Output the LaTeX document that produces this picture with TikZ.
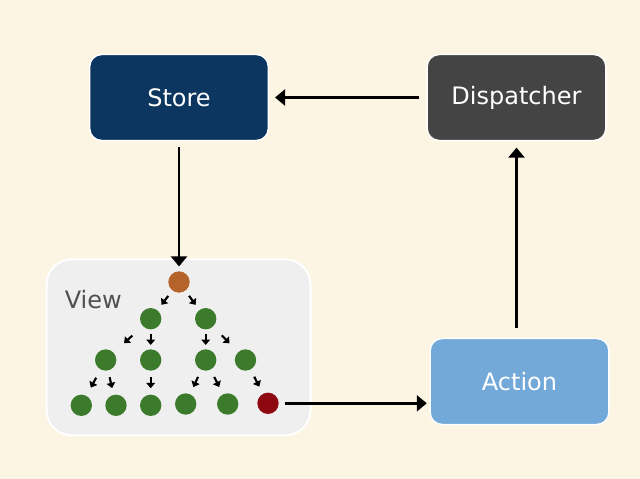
\documentclass[tikz,border=0pt]{standalone}
\usepackage{fontspec}
\setmainfont{DejaVu Sans}
\usetikzlibrary{arrows.meta,calc}
\definecolor{bg}{HTML}{FDF5E3}
\definecolor{storec}{HTML}{0C365F}
\definecolor{dispc}{HTML}{444444}
\definecolor{actc}{HTML}{72A9D9}
\definecolor{viewc}{HTML}{EFEFEF}
\definecolor{rootc}{HTML}{B4632A}
\definecolor{leafc}{HTML}{3C7A2C}
\definecolor{redc}{HTML}{8E0812}
\definecolor{labc}{HTML}{505050}
\newcommand\treearrow[2]{\draw[tarrow] ($(#1)!.5!(#2)!4.2pt!(#1)$) -- ($(#1)!.5!(#2)!4.2pt!(#2)$);}
\begin{document}
\begin{tikzpicture}[x=0.75pt,y=-0.75pt,
  box/.style={draw=white, line width=1.1pt, rounded corners=9pt, minimum width=134pt, minimum height=64.5pt, inner sep=0pt, text=white, font=\fontsize{18}{21}\selectfont},
  dot/.style={circle, minimum size=16pt, inner sep=0pt},
  bigarrow/.style={line width=1.8pt, -{Triangle[length=7.5pt,width=12pt]}},
  tarrow/.style={line width=1.6pt, -{Triangle[length=4pt,width=6.5pt]}}]
\fill[bg] (0,0) rectangle (640,479);
\useasboundingbox (0,0) rectangle (640,479);
% view panel
\node[draw=white, line width=1.5pt, fill=viewc, rounded corners=19pt, minimum width=198pt, minimum height=132pt, inner sep=0pt] (view) at (178.5,347.3) {};
\node[anchor=base west, text=labc, font=\fontsize{18}{21}\selectfont, inner sep=0pt] (viewlab) at (64.5,308.5) {View};
% boxes
\node[box, fill=storec] (store) at (179,97.5) {Store};
\node[box, fill=dispc] (disp) at (516.5,97.5) {Dispatcher};
\node[box, fill=actc] (action) at (519.5,381.5) {Action};
% tree
\node[dot, fill=rootc] (r) at (179,282) {};
\node[dot, fill=leafc] (a1) at (150.7,318.7) {};
\node[dot, fill=leafc] (a2) at (205.7,318.7) {};
\node[dot, fill=leafc] (b1) at (105.7,360) {};
\node[dot, fill=leafc] (b2) at (150.7,360) {};
\node[dot, fill=leafc] (b3) at (205.7,360) {};
\node[dot, fill=leafc] (b4) at (245.5,360) {};
\node[dot, fill=leafc] (c1) at (81.3,405.3) {};
\node[dot, fill=leafc] (c2) at (116,405.3) {};
\node[dot, fill=leafc] (c3) at (150.7,405.3) {};
\node[dot, fill=leafc] (c4) at (185.7,404) {};
\node[dot, fill=leafc] (c5) at (227.7,404) {};
\node[dot, fill=redc] (c6) at (268,403.3) {};
\treearrow{r}{a1}
\treearrow{r}{a2}
\treearrow{a1}{b1}
\treearrow{a1}{b2}
\treearrow{a2}{b3}
\treearrow{a2}{b4}
\treearrow{b1}{c1}
\treearrow{b1}{c2}
\treearrow{b2}{c3}
\treearrow{b3}{c4}
\treearrow{b3}{c5}
\treearrow{b4}{c6}
% main arrows
\draw[bigarrow, shorten <=4.5pt, shorten >=3.5pt] (store.south) -- (r.north);
\draw[bigarrow, shorten <=5.5pt, shorten >=4.5pt] (disp.west) -- (store.east);
\draw[bigarrow, shorten <=7.5pt, shorten >=4.8pt] (disp.south |- action.north) -- (disp.south);
\draw[bigarrow, shorten <=4.5pt, shorten >=2pt] (c6.east) -- (c6.east -| action.west);
\end{tikzpicture}
\end{document}
